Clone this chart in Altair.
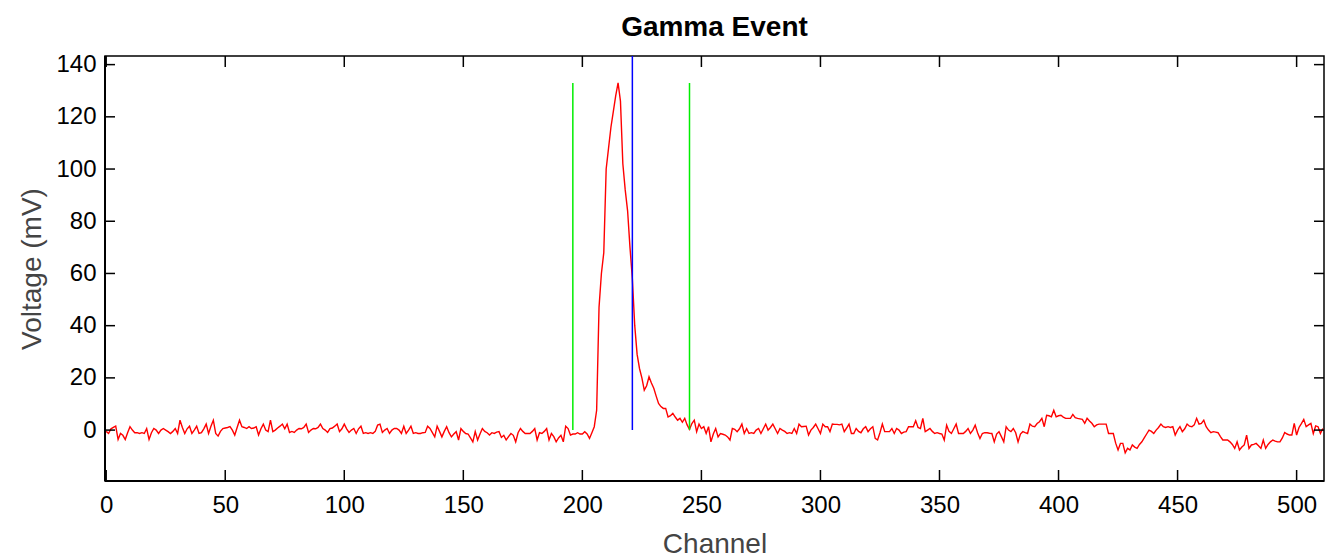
import altair as alt
import pandas as pd

# Digitiser trace, one sample per channel (mV)
pre_trigger = [
    -0.5, -1.3, 0.5, 1.0, 1.5, -3.6, -1.3, -2.0, -3.6, -1.0,
    1.3, 0.0, -1.0, -1.0, -1.3, -1.0, -1.3, 0.6, -3.6, -1.0,
    0.6, 0.0, -1.3, 0.0, 0.6, 0.0, -0.6, -1.3, -0.5, 0.6,
    -1.3, 3.8, 1.0, -1.3, 0.5, 1.5, -1.3, 0.0, 1.5, -1.3,
    -1.0, 0.5, 2.3, -1.3, 1.5, 3.8, -1.3, -2.3, -0.5, 0.6,
    0.8, 1.0, 1.3, 0.0, -1.9, 1.0, 3.8, 1.3, 1.0, 0.6,
    1.3, 0.6, 0.8, 1.3, -1.9, 0.5, 2.3, 0.0, -0.6, 3.8,
    -0.6, 0.0, 0.8, 1.5, 2.3, 0.5, 2.3, -0.9, -0.5, -0.9,
    0.0, 0.6, 0.5, 1.0, 2.3, -0.9, 0.0, 0.6, 0.5, 1.0,
    2.3, 0.6, 0.0, -0.9, 0.6, 0.8, 1.5, 2.3, -0.6, 0.5,
    2.3, 0.5, -0.9, 0.0, 0.6, -1.3, 0.5, 1.5, -1.3, -1.0,
    -1.3, -1.0, -1.3, -0.5, 1.9, 2.3, -0.9, 0.0, 0.6, -1.3,
    0.0, 0.6, 0.6, 0.0, -1.3, 1.5, -1.3, 0.0, 1.5, -1.3,
    -1.0, -1.3, -1.3, -1.0, -0.9, 1.5, 0.6, -1.0, -2.6, 1.5,
    -0.5, -2.6, -0.5, 1.3, -1.0, -2.6, -1.5, -0.6, -3.8, 0.6,
    -0.5, -1.3, -1.5, -3.0, -4.5, -0.6, -3.8, -1.5, 0.6, -0.5,
    -1.0, -1.9, -1.0, -1.3, -0.8, -0.6, -2.8, -2.0, -3.8, -2.5,
    -1.3, -2.0, -4.5, -1.0, 0.6, -0.5, -1.3, -1.3, -1.3, -0.5,
    0.6, -3.8, -1.0, -1.3, -0.5, 0.6, -3.8, -1.3, -2.5, -4.5,
    -3.0, -2.0, -4.5, 1.5, 0.6, -1.9, -1.5, -1.5, -1.0, -1.5,
]

pulse = [
    -1.5, -0.6, -1.5, -3.2, -1.0, 1.3, 7.6, 47.0, 60.0, 68.0,
    100.0, 108.0, 116.0, 122.0, 128.0, 133.0, 126.0, 102.0, 92.0, 84.0,
    70.0, 58.0, 40.0, 29.0, 23.6, 20.0, 15.3, 17.0, 20.4, 18.0,
    16.0, 13.0, 10.2, 9.0, 8.3, 8.3, 5.0, 5.5, 6.4, 5.0,
    3.8, 4.5, 3.0, 4.5, 2.0, 0.3, 2.5, 3.8, -0.6, 2.3,
]

post_pulse = [
    0.6, 1.3, -1.3, 1.3, -4.5, -1.5, 0.6, -2.6, -1.3, -1.6,
    -1.9, -2.6, -3.8, 0.6, 0.3, -0.6, 0.5, 2.3, -1.3, 0.6,
    -1.3, -1.0, -1.3, 0.0, 0.6, -1.3, 0.5, 2.3, 0.0, 1.0,
    2.3, 0.5, -1.3, 0.6, 0.0, -0.5, -1.3, -1.0, -1.3, 0.6,
    -1.3, 2.3, 1.3, 1.4, 1.5, -1.9, 0.0, 1.0, 2.3, 0.5,
    -1.3, 2.3, 1.3, 1.3, -0.6, 2.3, 2.2, 2.2, 2.0, 2.3,
    -0.6, 0.8, 2.3, -1.3, -1.3, 0.6, -0.5, -1.0, 0.5, 1.3,
    -0.6, 0.5, 1.3, -3.2, -3.8, -1.0, 2.3, -0.6, -0.6, -0.6,
    0.6, -1.3, 0.6, 0.0, -1.3, -0.8, -0.6, 1.3, 1.3, 1.3,
    3.6, 1.0, 0.6, 4.5, -0.6, 0.0, 0.6, -0.5, -1.3, -1.0,
    -1.3, -1.5, -3.8, 1.9, -0.5, -1.3, 0.5, 2.3, -1.3, -1.3,
    -1.3, -0.5, 0.6, -1.3, 0.0, 1.9, -1.0, -3.2, -1.3, -1.0,
    -1.0, -1.2, -1.3, -4.5, -1.5, -0.6, -2.5, -4.5, 1.3, 0.0,
    -0.6, 0.6, -1.0, -4.5, -1.5, -0.6, -1.0, -1.3, 2.3, 1.5,
    1.3, 2.5, 3.2, 4.5, 1.3, 5.7, 5.5, 5.1, 7.6, 5.1,
    5.5, 5.7, 5.0, 4.5, 4.5, 4.5, 6.0, 4.8, 4.5, 4.3,
    4.1, 2.6, 4.5, 3.5, 2.6, 1.3, 2.0, 2.3, 2.3, 2.3,
    2.3, -1.3, -1.3, -1.3, -5.0, -7.6, -5.1, -5.1, -8.7, -7.0,
    -7.6, -5.7, -6.5, -7.0, -5.5, -4.5, -3.0, -1.5, 0.0, -0.5,
    -1.3, 0.0, 1.0, 2.3, 1.3, 1.0, 1.3, 1.0, 1.3, -1.9,
    0.0, 1.3, -0.6, 0.5, 2.3, 1.5, 1.3, 2.0, 4.5, 2.3,
    2.6, 3.8, 1.3, 0.0, -1.0, -0.6, -0.8, -1.0, -2.5, -3.8,
    -3.8, -3.8, -4.5, -5.5, -7.0, -4.5, -7.6, -6.5, -5.7, -1.9,
    -7.0, -5.7, -5.5, -5.1, -6.0, -7.0, -3.8, -7.0, -5.5, -4.5,
    -3.8, -4.2, -4.5, -4.5, -3.0, -0.9, -1.5, -1.9, -1.9, 2.6,
    -1.9, 1.0, 2.5, 4.1, 1.3, 2.0, 2.6, -1.3, 1.6, 1.3,
    -1.3, 0.6,
]

# Integration window edges and trigger position (channels)
window_channels = [196, 245]
window_top = 133
trigger_channel = [221]

# Axis ranges and tick positions
x_range = [-0.5, 511.5]
y_range = [-19.5, 143.3]
x_ticks = [0, 50, 100, 150, 200, 250, 300, 350, 400, 450, 500]
y_ticks = [0, 20, 40, 60, 80, 100, 120, 140]

W, H = 1219, 425
TICK = 11

voltage = pre_trigger + pulse + post_pulse
trace = pd.DataFrame({"channel": list(range(len(voltage))), "voltage": voltage})

xscale = alt.Scale(domain=x_range, nice=False, zero=False)
yscale = alt.Scale(domain=y_range, nice=False, zero=False)

x_axis = alt.Axis(
    values=x_ticks, ticks=False, grid=False, domain=False,
    labelFontSize=24, labelColor="black", labelPadding=12, labelFlush=False,
    title="Channel", titleFontSize=28, titleFontWeight="normal",
    titleColor="#444444", titleX=W / 2, titleY=71, titleBaseline="alphabetic",
)
y_axis = alt.Axis(
    values=y_ticks, ticks=False, grid=False, domain=False,
    labelFontSize=24, labelColor="black", labelPadding=9, labelFlush=False,
    title="Voltage (mV)", titleFontSize=28, titleFontWeight="normal",
    titleColor="#444444", titleX=-65, titleY=H / 2, titleBaseline="alphabetic",
    titleAngle=-90,
)

line = alt.Chart(trace).mark_line(color="#ff0000", strokeWidth=1.4, clip=True).encode(
    x=alt.X("channel:Q", scale=xscale, axis=x_axis),
    y=alt.Y("voltage:Q", scale=yscale, axis=y_axis),
)

window = pd.DataFrame({
    "channel": window_channels,
    "voltage": [0] * len(window_channels),
    "top": [window_top] * len(window_channels),
})
window_rules = alt.Chart(window).mark_rule(color="#00ee00", strokeWidth=1.5).encode(
    x="channel:Q", y="voltage:Q", y2="top:Q",
)

trigger = pd.DataFrame({
    "channel": trigger_channel,
    "voltage": [0],
    "top": [y_range[1]],
})
trigger_rule = alt.Chart(trigger).mark_rule(color="#0000ff", strokeWidth=1.5).encode(
    x="channel:Q", y="voltage:Q", y2="top:Q",
)

# Inward-pointing ticks on all four sides of the frame
xt = pd.DataFrame({"channel": x_ticks})
yt = pd.DataFrame({"voltage": y_ticks})
tick_style = dict(color="black", strokeWidth=1.5)
bottom_ticks = alt.Chart(xt).mark_rule(**tick_style).encode(
    x="channel:Q", y=alt.value(H), y2=alt.value(H - TICK))
top_ticks = alt.Chart(xt).mark_rule(**tick_style).encode(
    x="channel:Q", y=alt.value(0), y2=alt.value(TICK))
left_ticks = alt.Chart(yt).mark_rule(**tick_style).encode(
    y="voltage:Q", x=alt.value(0), x2=alt.value(TICK - 1))
right_ticks = alt.Chart(yt).mark_rule(**tick_style).encode(
    y="voltage:Q", x=alt.value(W), x2=alt.value(W - TICK + 1))

# Thicker left and bottom frame lines
frame_lb = pd.DataFrame({"channel": [x_range[0]], "voltage": [y_range[0]]})
left_edge = alt.Chart(frame_lb).mark_rule(color="black", strokeWidth=2).encode(
    x=alt.value(0), y=alt.value(0), y2=alt.value(H))
bottom_edge = alt.Chart(frame_lb).mark_rule(color="black", strokeWidth=2).encode(
    y=alt.value(H), x=alt.value(0), x2=alt.value(W))

chart = alt.layer(
    line, window_rules, trigger_rule,
    bottom_ticks, top_ticks, left_ticks, right_ticks, left_edge, bottom_edge,
).properties(
    width=W, height=H,
    title=alt.TitleParams(
        "Gamma Event", fontSize=28, fontWeight="bold", color="black",
        anchor="middle", offset=19, dy=30, baseline="alphabetic",
    ),
    autosize=alt.AutoSizeParams(type="none"),
    padding={"left": 105, "top": 56, "right": 1, "bottom": 76},
).configure(
    font="Liberation Sans",
).configure_view(
    stroke="black", strokeWidth=1.5,
)

chart.save("out.html", embed_options={"renderer": "svg", "actions": False})
